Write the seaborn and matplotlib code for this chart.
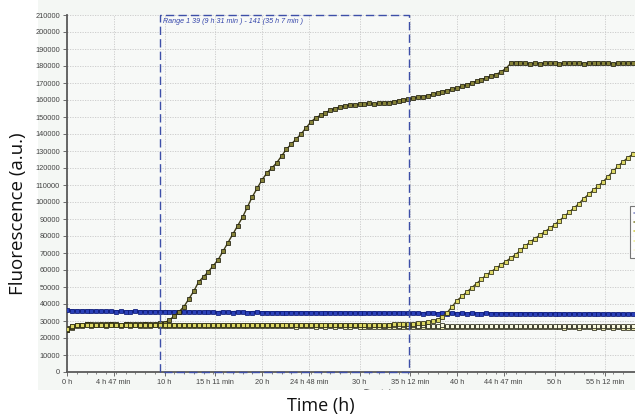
import numpy as np
import pandas as pd
import matplotlib
matplotlib.use("Agg")
import matplotlib.pyplot as plt
from matplotlib.patches import Rectangle
from matplotlib.lines import Line2D
import seaborn as sns

# ---------------- data (values in thousands of fluorescence units) ----------------
time_h = np.arange(0, 58.01, 0.5)

blue_k = [
    36.2, 36.0, 35.9, 35.8, 35.9, 35.7, 35.8, 35.6, 35.7, 35.6,
    35.5, 35.6, 35.4, 35.5, 35.6, 35.4, 35.5, 35.3, 35.5, 35.4,
    35.5, 35.3, 35.4, 35.2, 35.3, 35.4, 35.2, 35.3, 35.1, 35.2,
    35.2, 35.0, 35.3, 35.1, 35.0, 35.2, 35.1, 34.9, 35.0, 35.1,
    34.9, 35.0, 34.8, 35.0, 34.9, 34.8, 35.0, 34.8, 34.9, 34.8,
    34.9, 34.8, 34.7, 34.9, 34.8, 34.7, 34.9, 34.7, 34.8, 34.6,
    34.8, 34.7, 34.6, 34.8, 34.6, 34.7, 34.5, 34.7, 34.6, 34.5,
    34.7, 34.5, 34.6, 34.4, 34.6, 34.5, 34.4, 34.6, 34.4, 34.5,
    34.4, 34.5, 34.3, 34.5, 34.4, 34.3, 34.5, 34.3, 34.4, 34.2,
    34.4, 34.3, 34.2, 34.4, 34.2, 34.3, 34.1, 34.3, 34.2, 34.1,
    34.3, 34.1, 34.2, 34.0, 34.2, 34.1, 34.0, 34.2, 34.0, 34.1,
    34.0, 34.1, 33.9, 34.1, 34.0, 33.9, 34.0,
]

olive_k = [
    25.0, 26.5, 27.5, 27.8, 28.0, 28.0, 27.9, 28.1, 28.0, 28.2,
    28.0, 27.9, 28.1, 28.0, 28.2, 28.1, 28.2, 28.3, 28.5, 28.7,
    29.0, 30.5, 33.0, 35.5, 38.5, 43.0, 47.5, 53.0, 56.0, 59.0,
    62.5, 66.0, 71.0, 76.0, 81.0, 86.0, 91.0, 97.0, 103.0, 108.0,
    113.0, 117.0, 120.0, 123.0, 127.0, 131.0, 134.0, 137.0, 140.0, 143.5,
    147.0, 149.5, 151.0, 152.5, 154.0, 155.0, 156.0, 156.5, 157.0, 157.0,
    157.5, 157.5, 158.0, 157.5, 158.0, 158.5, 158.5, 159.0, 159.5, 160.0,
    160.5, 161.0, 161.5, 162.0, 162.5, 163.5, 164.0, 165.0, 165.5, 166.5,
    167.0, 168.0, 169.0, 170.0, 171.0, 172.0, 173.0, 174.0, 175.0, 176.5,
    178.5, 181.5, 182.0, 181.5, 181.5, 181.3, 181.5, 181.4, 181.5, 181.6,
    181.5, 181.4, 181.5, 181.5, 181.6, 181.5, 181.4, 181.5, 181.5, 181.6,
    181.5, 181.5, 181.4, 181.5, 181.5, 181.6, 181.5,
]

yellow_k = [
    25.5, 27.0, 27.5, 27.5, 27.6, 27.5, 27.4, 27.6, 27.5, 27.5,
    27.6, 27.5, 27.4, 27.5, 27.6, 27.5, 27.5, 27.4, 27.5, 27.6,
    27.5, 27.5, 27.4, 27.5, 27.6, 27.5, 27.5, 27.4, 27.5, 27.5,
    27.5, 27.4, 27.5, 27.6, 27.5, 27.5, 27.4, 27.5, 27.5, 27.6,
    27.5, 27.5, 27.4, 27.5, 27.5, 27.6, 27.5, 27.4, 27.5, 27.5,
    27.5, 27.6, 27.5, 27.5, 27.4, 27.5, 27.5, 27.6, 27.5, 27.5,
    27.6, 27.5, 27.6, 27.7, 27.7, 27.8, 27.9, 28.0, 28.2, 28.4,
    28.4, 28.5, 28.7, 28.9, 29.3, 29.8, 30.8, 32.5, 35.0, 38.5,
    42.0, 44.5, 47.0, 49.5, 52.0, 54.5, 57.0, 59.0, 61.0, 63.0,
    65.0, 67.0, 69.0, 71.5, 74.0, 76.5, 78.5, 80.5, 82.5, 84.5,
    86.5, 89.0, 91.5, 94.0, 96.5, 99.0, 102.0, 104.5, 107.0, 109.5,
    112.0, 115.0, 118.0, 121.0, 123.5, 126.0, 128.0,
]

lightyellow_k = [
    24.5, 26.0, 27.0, 27.3, 27.4, 27.3, 27.5, 27.4, 27.3, 27.5,
    27.4, 27.3, 27.4, 27.2, 27.4, 27.3, 27.2, 27.3, 27.4, 27.2,
    27.3, 27.2, 27.1, 27.3, 27.2, 27.1, 27.2, 27.0, 27.2, 27.1,
    27.0, 27.1, 27.2, 27.0, 27.1, 26.9, 27.0, 27.1, 26.9, 27.0,
    26.9, 27.0, 26.8, 26.9, 27.0, 26.8, 26.9, 26.7, 26.9, 26.8,
    26.8, 26.7, 26.9, 26.7, 26.8, 26.6, 26.8, 26.7, 26.6, 26.8,
    26.7, 26.6, 26.7, 26.5, 26.7, 26.6, 26.5, 26.7, 26.6, 26.5,
    26.6, 26.5, 26.6, 26.4, 26.6, 26.5, 26.4, 26.5, 26.6, 26.4,
    26.5, 26.4, 26.3, 26.5, 26.4, 26.3, 26.4, 26.5, 26.3, 26.4,
    26.3, 26.4, 26.2, 26.4, 26.3, 26.2, 26.3, 26.4, 26.2, 26.3,
    26.2, 26.3, 26.1, 26.3, 26.2, 26.1, 26.2, 26.3, 26.1, 26.2,
    26.1, 26.2, 26.0, 26.2, 26.1, 26.0, 26.1,
]

pale_k = [
    26.0, 27.2, 27.8, 27.9, 28.0, 27.9, 28.0, 27.8, 27.9, 28.0,
    27.9, 27.8, 28.0, 27.9, 27.8, 27.9, 28.0, 27.8, 27.9, 27.8,
    27.9, 27.8, 27.7, 27.9, 27.8, 27.7, 27.8, 27.9, 27.7, 27.8,
    27.7, 27.8, 27.6, 27.8, 27.7, 27.6, 27.7, 27.8, 27.6, 27.7,
    27.6, 27.7, 27.5, 27.7, 27.6, 27.5, 27.6, 27.7, 27.5, 27.6,
    27.5, 27.6, 27.4, 27.6, 27.5, 27.4, 27.5, 27.6, 27.4, 27.5,
    27.4, 27.5, 27.3, 27.5, 27.4, 27.3, 27.4, 27.5, 27.3, 27.4,
    27.3, 27.4, 27.2, 27.4, 27.3, 27.2, 27.3, 27.4, 27.2, 27.3,
    27.2, 27.3, 27.1, 27.3, 27.2, 27.1, 27.2, 27.3, 27.1, 27.2,
    27.1, 27.2, 27.0, 27.2, 27.1, 27.0, 27.1, 27.2, 27.0, 27.1,
    27.0, 27.1, 26.9, 27.1, 27.0, 26.9, 27.0, 27.1, 26.9, 27.0,
    26.9, 27.0, 26.8, 27.0, 26.9, 26.8, 26.9,
]

xtick_pos = [0, 4.783, 10, 15.183, 20, 24.8, 30, 35.2, 40, 44.783, 50, 55.2]
xtick_labels = ["0 h", "4 h 47 min", "10 h", "15 h 11 min", "20 h", "24 h 48 min",
                "30 h", "35 h 12 min", "40 h", "44 h 47 min", "50 h", "55 h 12 min"]
ytick_vals = list(range(0, 210001, 10000))

range_start_h = 9.517   # 9 h 31 min
range_end_h = 35.117    # 35 h 7 min
range_text = "Range 1 39 (9 h 31 min ) - 141 (35 h 7 min )"

# ---------------- figure ----------------
sns.set_theme(style="white")
plt.rcParams["font.family"] = ["Liberation Sans", "DejaVu Sans"]

W, H = 635, 417
fig = plt.figure(figsize=(W / 100, H / 100), dpi=100)
fig.patch.set_facecolor("white")

# software-chart background panel
bg = Rectangle((38 / W, 1 - 390 / H), 1 - 38 / W, 390 / H, transform=fig.transFigure,
               facecolor="#f4f7f4", edgecolor="none", zorder=-5)
fig.patches.append(bg)

x0, x1 = 67, 635
y_top, y_bot = 15, 372
ax = fig.add_axes([x0 / W, 1 - y_bot / H, (x1 - x0) / W, (y_bot - y_top) / H])
ax.set_zorder(2)
ax.set_facecolor("#f7f9f7")

df = pd.DataFrame({
    "t": np.tile(time_h, 5),
    "v": np.concatenate([blue_k, lightyellow_k, pale_k, olive_k, yellow_k]) * 1000,
    "s": np.repeat(["b", "ly", "p", "o", "y"], len(time_h)),
})

styles = {
    "b": dict(color="#1f33a6", mfc="#2a40b8", mec="#0d1a78", lw=2.2),
    "ly": dict(color="#3a3a20", mfc="#eeeeb0", mec="#2a2a1a", lw=1.0),
    "p": dict(color="#3a3a20", mfc="#f7f7de", mec="#2a2a1a", lw=1.0),
    "o": dict(color="#3f3d18", mfc="#858238", mec="#1e1d0c", lw=1.0),
    "y": dict(color="#4a4818", mfc="#dcd764", mec="#2a2a10", lw=1.0),
}
for key, st in styles.items():
    sub = df[df["s"] == key]
    sns.lineplot(data=sub, x="t", y="v", ax=ax, color=st["color"], linewidth=st["lw"],
                 marker="s", markersize=3.2, markerfacecolor=st["mfc"],
                 markeredgecolor=st["mec"], markeredgewidth=0.55, legend=False,
                 zorder=3)

ax.set_xlim(0, (x1 - x0) / 9.75)
ax.set_ylim(0, 210000)

ax.set_xticks(xtick_pos)
ax.set_xticklabels(xtick_labels)
ax.set_xticks(np.arange(1, 58, 1), minor=True)
ax.set_yticks(ytick_vals)
ax.set_yticklabels([str(v) for v in ytick_vals])

ax.tick_params(axis="both", which="major", labelsize=5.3, colors="#555555",
               length=3, width=0.6, direction="out", pad=2, bottom=True, left=True)
ax.tick_params(axis="x", which="minor", length=1.5, width=0.5, colors="#555555", bottom=True)
for lab in ax.get_xticklabels() + ax.get_yticklabels():
    lab.set_color("#444444")

ax.grid(True, which="major", linestyle=(0, (1.5, 1.5)), color="#c8c8c8", linewidth=0.6)
for side in ["top", "right"]:
    ax.spines[side].set_visible(False)
for side in ["left", "bottom"]:
    ax.spines[side].set_visible(True)
    ax.spines[side].set_color("#5a5a5a")
    ax.spines[side].set_linewidth(1.3)
ax.set_xlabel("")
ax.set_ylabel("")

# range box
ax.plot([range_start_h, range_start_h, range_end_h, range_end_h, range_start_h],
        [0, 210000, 210000, 0, 0], color="#3d4fa8", lw=1.0, dashes=(6, 3),
        clip_on=False, zorder=4)
ax.text(range_start_h + 0.3, 208500, range_text, fontsize=5.1, style="italic",
        color="#3344aa", va="top", ha="left", zorder=5)

# legend (cut off at right edge)
handles = [Line2D([0], [0], color=c, lw=1.2) for c in
           ["#8890c8", "#8a8a40", "#d0cc50", "#eeee9a", "#f7f7d6"]]
leg = fig.legend(handles, ["        "] * 5, loc="upper left",
                 bbox_to_anchor=(627 / W, 1 - 203 / H), fontsize=5,
                 frameon=True, fancybox=False, handlelength=2.5, borderpad=0.5,
                 labelspacing=0.35)
leg.get_frame().set_edgecolor("#555555")
leg.get_frame().set_linewidth(0.8)
leg.set_zorder(10)

# small software axis caption, clipped at panel edge
cap = fig.text(385 / W, 1 - 392 / H, "Time in hours", fontsize=5, color="#444444",
               ha="center", va="center", zorder=5)
cap.set_clip_path(bg)

# outer axis labels
fig.text(321 / W, 1 - 406 / H, "Time (h)", fontsize=13, ha="center", va="center",
         family=["Open Sans", "DejaVu Sans"], color="#111111")
fig.text(18 / W, 1 - 214 / H, "Fluorescence (a.u.)", fontsize=13.5, rotation=90,
         ha="center", va="center", family=["Open Sans", "DejaVu Sans"], color="#111111")

fig.savefig("out.png", dpi=100)
